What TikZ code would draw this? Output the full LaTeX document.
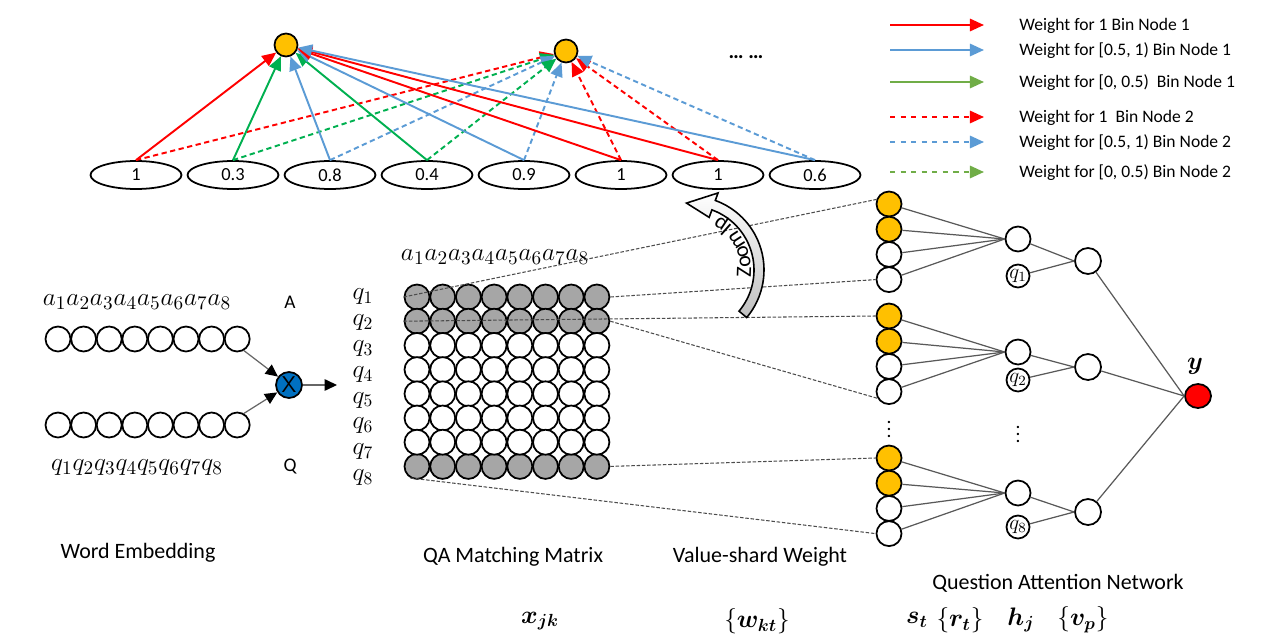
\documentclass[tikz,border=0pt]{standalone}
\usepackage{amsmath}
\usepackage{fontspec}
\setmainfont{Carlito}
\usetikzlibrary{arrows.meta,shapes.geometric,decorations.text}
\definecolor{wred}{RGB}{255,0,0}
\definecolor{wblue}{RGB}{91,155,213}
\definecolor{wgreen}{RGB}{0,176,80}
\definecolor{lgreen}{RGB}{112,173,71}
\definecolor{gold}{RGB}{255,192,0}
\definecolor{mulblue}{RGB}{0,112,192}
\definecolor{cellgray}{RGB}{166,166,166}
\tikzset{
  unit/.style={circle,draw,line width=1pt,fill=white,minimum size=0.5cm,inner sep=0pt},
  gold unit/.style={unit,fill=gold},
  bin/.style={ellipse,draw,line width=1pt,minimum width=1.82cm,minimum height=0.56cm,inner sep=0pt,
    font=\fontsize{10.5}{12}\selectfont},
  w1/.style={line width=1.1pt,-{Triangle[length=8pt,width=7pt]}},
  w2/.style={w1,dash pattern=on 3pt off 2pt},
  key/.style={line width=1.2pt,-{Triangle[length=8pt,width=7pt]}},
  feed/.style={black!60,line width=0.7pt,-{Triangle[length=7pt,width=6.5pt,color=black]}},
  link/.style={black!65,line width=0.7pt},
  zoomline/.style={black!70,line width=0.6pt,dash pattern=on 2pt off 1pt},
  lbl/.style={font=\fontsize{12.5}{14}\selectfont},
  seq/.style={font=\fontsize{15}{17}\selectfont,inner sep=0pt},
  idx/.style={font=\fontsize{14}{16}\selectfont,inner sep=0pt},
}
\begin{document}
\begin{tikzpicture}[x=0.02cm,y=-0.02cm]
\useasboundingbox (0,0) rectangle (1280,642);

% bins and value-shard nodes
\node[gold unit,minimum size=0.46cm] (b1) at (286,45) {};
\node[gold unit,minimum size=0.46cm] (b2) at (566,51) {};
\node[font=\fontsize{12}{14}\selectfont\bfseries] (more) at (746,57) {\dots\ \dots};
\foreach \v [count=\i] in {1,0.3,0.8,0.4,0.9,1,1,0.6}
  \node[bin] (e\i) at ({136+97*(\i-1)},175) {\v};
\foreach \i/\c in {1/wred,2/wgreen,3/wblue,4/wgreen,5/wblue,6/wred,7/wred,8/wblue} {
  \draw[w2,\c] (e\i.north) -- (b2);
  \draw[w1,\c] (e\i.north) -- (b1);
}

% legend
\foreach \i/\y/\c/\s/\t in {1/25/wred/solid/{Weight for 1 Bin Node 1},
    2/50/wblue/solid/{Weight for [0.5, 1) Bin Node 1},
    3/82/lgreen/solid/{Weight for [0, 0.5)\ \ Bin Node 1},
    4/117/wred/dashed/{Weight for 1\ \ Bin Node 2},
    5/142/wblue/dashed/{Weight for [0.5, 1) Bin Node 2},
    6/172/lgreen/dashed/{Weight for [0, 0.5) Bin Node 2}} {
  \coordinate (ks\i) at (890,\y);
  \coordinate (ke\i) at (984,\y);
  \draw[key,\c,\s] (ks\i) -- (ke\i);
  \node[anchor=west,inner sep=0pt,font=\fontsize{10}{12}\selectfont] (kt\i) at (1019,\y+1) {\t};
}

% word embedding
\foreach \i in {1,...,8} {
  \node[unit] (wa\i) at ({58+25.6*(\i-1)},339) {};
  \node[unit] (wq\i) at ({58+25.6*(\i-1)},425) {};
}
\node[seq] (alab) at (137,302) {$a_1a_2a_3a_4a_5a_6a_7a_8$};
\node[seq] (qlab) at (137,468) {$q_1q_2q_3q_4q_5q_6q_7q_8$};
\node[font=\fontsize{11}{13}\selectfont] (A) at (290,302) {A};
\node[font=\fontsize{11}{13}\selectfont] (Q) at (290,467) {Q};
\node[unit,fill=mulblue,minimum size=0.52cm,font=\fontsize{13}{14}\selectfont\sffamily] (mul) at (289,385) {X};
\coordinate (mout) at (337,385);
\draw[feed] (wa8.-60) -- (mul);
\draw[feed] (wq8.60) -- (mul);
\draw[feed] (mul) -- (mout);

% QA matching matrix
\foreach \r in {1,2,8}
  \foreach \c in {1,...,8}
    \node[unit,fill=cellgray] (m-\r-\c) at ({417+25.7*(\c-1)},{297+24.2*(\r-1)}) {};
\foreach \r in {3,...,7}
  \foreach \c in {1,...,8}
    \node[unit] (m-\r-\c) at ({417+25.7*(\c-1)},{297+24.2*(\r-1)}) {};
\foreach \r in {1,...,8}
  \node[idx] (ql\r) at (363,{297+25.8*(\r-1)}) {$q_{\r}$};
\node[seq] (mlab) at (495,257) {$a_1a_2a_3a_4a_5a_6a_7a_8$};

% question attention network
\foreach \g/\y in {1/204,2/316,3/458} {
  \foreach \i in {1,2}
    \node[gold unit] (s-\g-\i) at (889,{\y+25.2*(\i-1)}) {};
  \foreach \i in {3,4}
    \node[unit] (s-\g-\i) at (889,{\y+25.2*(\i-1)}) {};
}
\node[unit,fill=wred,minimum width=0.52cm,minimum height=0.48cm,ellipse] (y) at (1198,396) {};
\node[idx] (ylab) at (1195,366) {$\boldsymbol{y}$};
\foreach \g/\hy/\qy/\vy/\k in {1/239/276/261/1,2/352/380/367/2,3/493/527/512/8} {
  \node[unit] (h\g) at (1018,\hy) {};
  \node[unit,minimum size=0.46cm,font=\fontsize{12}{14}\selectfont] (qn\g) at (1018,\qy) {$q_{\k}$};
  \node[unit,minimum size=0.52cm] (v\g) at (1088,\vy) {};
  \foreach \i in {1,...,4}
    \draw[link] (s-\g-\i) -- (h\g.west);
  \draw[link] (h\g) -- (v\g.west);
  \draw[link] (qn\g) -- (v\g.west);
  \draw[link] (v\g) -- (y.west);
}
\node[font=\fontsize{11}{12}\selectfont,inner sep=0pt] (dots1) at (889,424) {$\vdots$};
\node[font=\fontsize{11}{12}\selectfont,inner sep=0pt] (dots2) at (1018,429) {$\vdots$};

% zoom lines
\draw[zoomline] (m-1-1.west) -- (s-1-1.160);
\draw[zoomline] (m-1-8.east) -- (s-1-4.west);
\draw[zoomline] (m-2-1.west) -- (s-2-1.west);
\draw[zoomline] (m-2-8.east) -- (s-2-4.-150);
\draw[zoomline] (m-8-8.east) -- (s-3-1.west);
\draw[zoomline] (m-8-1.-120) -- (s-3-4.west);

% zoom arrow
\begin{scope}[shift={(690,270)},yscale=-1]
\shade[top color=white,bottom color=black!25,draw=black,line width=0.9pt]
  (-40:74) arc[start angle=-40,end angle=70,radius=74] -- (70:82) -- (93:67)
  -- (70:56) -- (70:64) arc[start angle=70,end angle=-40,radius=64] -- cycle;
\path[decorate,decoration={text along path,text align=center,
    text={|\fontsize{12.5}{14}\selectfont|Zoom Ip}}]
  (-25:61) arc[start angle=-25,end angle=80,radius=61];
\end{scope}

% captions
\node[lbl] (cwe) at (138,553) {Word Embedding};
\node[lbl] (cqa) at (513,557) {QA Matching Matrix};
\node[lbl] (cvw) at (760,557) {Value-shard Weight};
\node[lbl] (cqn) at (1058,583) {Question Attention Network};
\node[idx] (xjk) at (540,621) {$\boldsymbol{x_{jk}}$};
\node[idx] (wkt) at (757,621) {$\{\boldsymbol{w_{kt}}\}$};
\node[idx] (st) at (917,620) {$\boldsymbol{s_t}$};
\node[idx] (rt) at (960,620) {$\{\boldsymbol{r_t}\}$};
\node[idx] (hj) at (1021,620) {$\boldsymbol{h_j}$};
\node[idx] (vp) at (1083,620) {$\{\boldsymbol{v_p}\}$};
\end{tikzpicture}
\end{document}
